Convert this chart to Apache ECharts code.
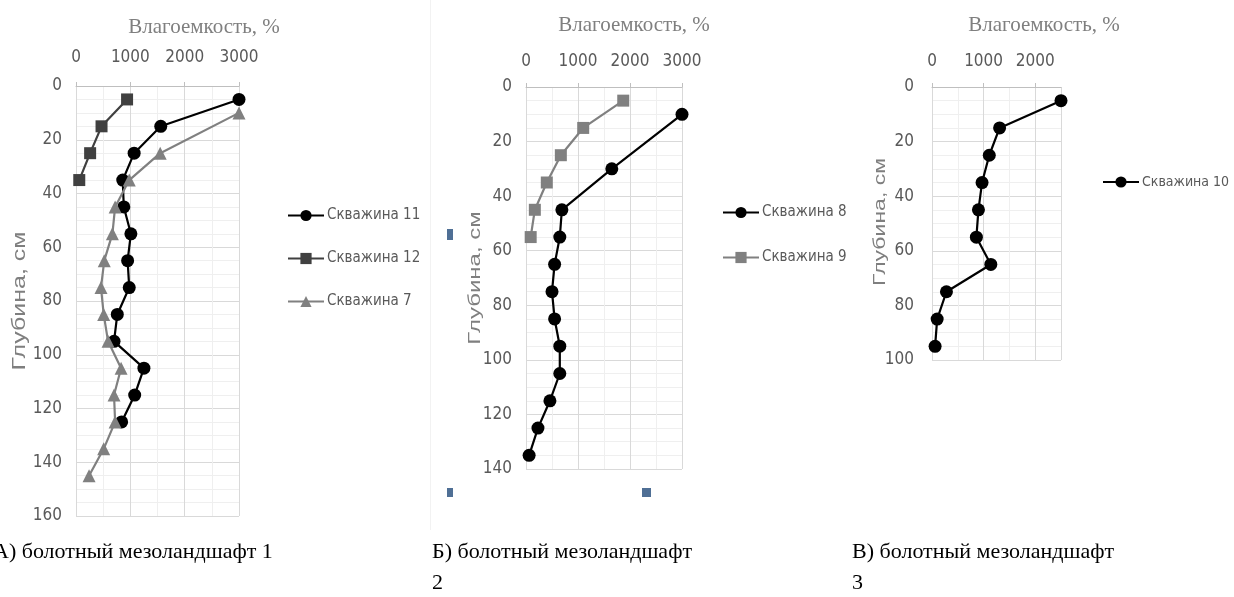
<!DOCTYPE html>
<html>
<head>
<meta charset="utf-8">
<script src="https://cdn.jsdelivr.net/npm/echarts@6/dist/echarts.min.js"></script>
<style>
  html, body { margin: 0; padding: 0; background: #ffffff; }
  #chart { width: 1234px; height: 597px; }
</style>
</head>
<body>
<div id="chart"></div>
<script>
// Depths of the samples, cm
const depthA11 = [5, 15, 25, 35, 45, 55, 65, 75, 85, 95, 105, 115, 125];
const depthA12 = [5, 15, 25, 35];
const depthA7 = [10, 25, 35, 45, 55, 65, 75, 85, 95, 105, 115, 125, 135, 145];
const depthB8 = [10, 30, 45, 55, 65, 75, 85, 95, 105, 115, 125, 135];
const depthB9 = [5, 15, 25, 35, 45, 55];
const depthC10 = [5, 15, 25, 35, 45, 55, 65, 75, 85, 95];

// Water capacity, %
const well11 = [3000, 1560, 1070, 860, 880, 1010, 950, 980, 760, 700, 1250, 1080, 840];
const well12 = [940, 470, 260, 60];
const well7 = [3000, 1550, 980, 720, 670, 520, 460, 510, 590, 830, 700, 720, 510, 240];
const well8 = [3000, 1650, 690, 650, 550, 500, 550, 650, 650, 460, 230, 60];
const well9 = [1870, 1100, 670, 400, 170, 90];
const well10 = [2500, 1310, 1110, 970, 900, 860, 1140, 280, 100, 60];

// Labels
const xTitle = 'Влагоемкость, %';
const yTitle = 'Глубина, см';
const captions = ['А) болотный мезоландшафт 1', 'Б) болотный мезоландшафт\n2', 'В) болотный мезоландшафт\n3'];
const seriesNames = ['Скважина 11', 'Скважина 12', 'Скважина 7', 'Скважина 8', 'Скважина 9', 'Скважина 10'];

const pairs = (xs, ys) => xs.map((v, i) => [v, ys[i]]);

const narrowFamily = '"DejaVu Sans Condensed", "Roboto Condensed", "Liberation Sans Narrow", Roboto, sans-serif';
const labelFont = { color: '#595959', fontFamily: narrowFamily, fontSize: 17 };
const gridLine = { show: true, lineStyle: { color: '#d9d9d9', width: 1 } };
const minorLine = { show: true, lineStyle: { color: '#efefef', width: 1 } };

function xAxis(gridIndex, max, margin) {
  return {
    type: 'value', gridIndex, position: 'top', min: 0, max, interval: 1000,
    axisLine: { show: true, lineStyle: { color: '#bfbfbf' } },
    axisTick: { show: true, length: 4, lineStyle: { color: '#bfbfbf' } },
    axisLabel: Object.assign({
      margin, showMaxLabel: max % 1000 === 0,
      formatter: v => String(v)
    }, labelFont),
    splitLine: gridLine,
    minorTick: { show: false, splitNumber: 2 },
    minorSplitLine: minorLine
  };
}
function yAxis(gridIndex, max, margin) {
  return {
    type: 'value', gridIndex, inverse: true, min: 0, max, interval: 20,
    axisLine: { show: true, lineStyle: { color: '#d9d9d9' } },
    axisTick: { show: false },
    axisLabel: Object.assign({ margin }, labelFont),
    splitLine: gridLine,
    minorTick: { show: false, splitNumber: 4 },
    minorSplitLine: minorLine
  };
}
function line(name, idx, data, color, symbol, size) {
  return {
    name, type: 'line', xAxisIndex: idx, yAxisIndex: idx, data,
    symbol, symbolSize: size, showSymbol: true,
    lineStyle: { color, width: 2.2 },
    itemStyle: { color },
    animation: false
  };
}
function legend(left, top, gap, fontSize, names) {
  return {
    orient: 'vertical', left, top, data: names,
    itemWidth: 36, itemHeight: 14, itemGap: gap,
    textStyle: { color: '#595959', fontFamily: narrowFamily, fontSize, padding: [0, 0, 0, -2] },
    selectedMode: false
  };
}
function text(x, y, str, font, color, extra) {
  return Object.assign({
    type: 'text', x, y,
    style: { text: str, font, fill: color, textAlign: 'center', textVerticalAlign: 'middle' }
  }, extra || {});
}

const chart = echarts.init(document.getElementById('chart'), null, { renderer: 'canvas' });
chart.setOption({
  backgroundColor: '#ffffff',
  grid: [
    { left: 76, top: 86, width: 163, height: 430 },
    { left: 526, top: 87, width: 156, height: 382 },
    { left: 932, top: 87, width: 129, height: 273 }
  ],
  xAxis: [xAxis(0, 3000, 20), xAxis(1, 3000, 17), xAxis(2, 2500, 17)],
  yAxis: [yAxis(0, 160, 14), yAxis(1, 140, 14), yAxis(2, 100, 18)],
  legend: [
    legend(282, 203, 28, 15, [seriesNames[0], seriesNames[1], seriesNames[2]]),
    legend(717, 200, 30, 15, [seriesNames[3], seriesNames[4]]),
    legend(1097, 170, 28, 14, [seriesNames[5]])
  ],
  series: [
    line(seriesNames[0], 0, pairs(well11, depthA11), '#000000', 'circle', 13),
    line(seriesNames[1], 0, pairs(well12, depthA12), '#404040', 'rect', 12),
    line(seriesNames[2], 0, pairs(well7, depthA7), '#808080', 'triangle', 13),
    line(seriesNames[3], 1, pairs(well8, depthB8), '#000000', 'circle', 13),
    line(seriesNames[4], 1, pairs(well9, depthB9), '#808080', 'rect', 12),
    line(seriesNames[5], 2, pairs(well10, depthC10), '#000000', 'circle', 13)
  ],
  graphic: [
    // panel separator
    { type: 'rect', shape: { x: 430, y: 0, width: 1, height: 530 }, style: { fill: '#f2f2f2' } },
    // selection handles of the middle panel
    { type: 'rect', shape: { x: 447, y: 229, width: 6, height: 11 }, style: { fill: '#4f6f95' } },
    { type: 'rect', shape: { x: 447, y: 488, width: 6, height: 9 }, style: { fill: '#4f6f95' } },
    { type: 'rect', shape: { x: 642, y: 488, width: 9, height: 9 }, style: { fill: '#4f6f95' } },
    // axis titles
    text(204, 27, xTitle, '21px "Liberation Serif"', '#7f7f7f'),
    text(634, 25, xTitle, '21px "Liberation Serif"', '#7f7f7f'),
    text(1044, 25, xTitle, '21px "Liberation Serif"', '#7f7f7f'),
    text(20, 301, yTitle, '25px "Liberation Sans"', '#7f7f7f', { rotation: Math.PI / 2, scaleY: 0.72 }),
    text(475, 278, yTitle, '24px "Liberation Sans"', '#7f7f7f', { rotation: Math.PI / 2, scaleY: 0.72 }),
    text(880, 222, yTitle, '23px "Liberation Sans"', '#7f7f7f', { rotation: Math.PI / 2, scaleY: 0.72 }),
    // panel captions
    { type: 'text', x: -7, y: 537, style: { text: captions[0], font: '22px "Liberation Serif"', fill: '#000000', lineHeight: 31 } },
    { type: 'text', x: 432, y: 537, style: { text: captions[1], font: '22px "Liberation Serif"', fill: '#000000', lineHeight: 31 } },
    { type: 'text', x: 852, y: 537, style: { text: captions[2], font: '22px "Liberation Serif"', fill: '#000000', lineHeight: 31 } }
  ]
});
</script>
</body>
</html>
